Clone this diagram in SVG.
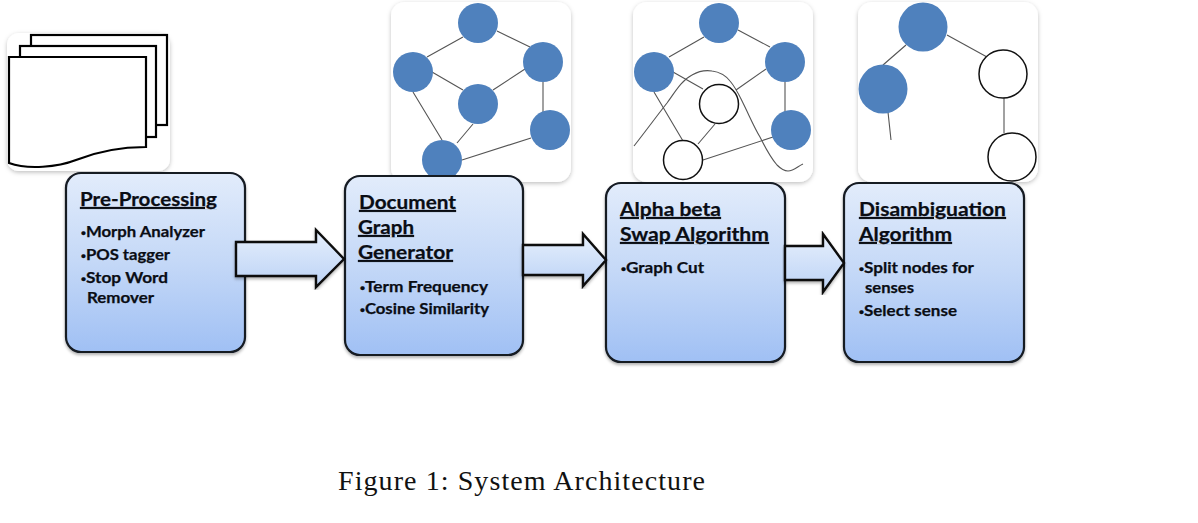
<svg xmlns="http://www.w3.org/2000/svg" width="1198" height="523" viewBox="0 0 1198 523">
<style>
.panel{fill:#fff;filter:url(#soft)}
.box{fill:url(#blue);stroke:#141a24;stroke-width:2.2;filter:url(#shadow)}
.arrow{fill:url(#arrowfill);stroke:#0a0a0a;stroke-width:2.4;stroke-linejoin:miter;filter:url(#shadow)}
.page{fill:#fff;stroke:#000;stroke-width:2.2}
.edge{stroke:#555;stroke-width:1.1;fill:none}
.on{fill:#4f81bd}
.off{fill:#fff;stroke:#111;stroke-width:1.5}
.t{font-family:Lato,"Liberation Sans",sans-serif;font-weight:700;fill:#0a0d14;stroke:#0a0d14;stroke-width:0.25px}
.h{font-size:19.5px;text-decoration:underline}
.b{font-size:15.5px}
.d{font-family:"Liberation Sans",sans-serif;font-size:13px}
.cap{font-family:"Liberation Serif",serif;font-size:28px;fill:#111}
</style>
<defs>
<linearGradient id="blue" x1="0" y1="0" x2="0" y2="1"><stop offset="0" stop-color="#e2ecfb"/><stop offset="0.5" stop-color="#c4d8f7"/><stop offset="1" stop-color="#a0c0f4"/></linearGradient>
<linearGradient id="arrowfill" x1="0" y1="0" x2="0" y2="1"><stop offset="0" stop-color="#e6effc"/><stop offset="1" stop-color="#bcd3f6"/></linearGradient>
<filter id="soft" x="-5%" y="-5%" width="110%" height="110%"><feDropShadow dx="0" dy="1.5" stdDeviation="2" flood-color="#000" flood-opacity="0.25"/></filter>
<filter id="shadow" x="-5%" y="-5%" width="110%" height="110%"><feDropShadow dx="0" dy="2" stdDeviation="1.5" flood-color="#000" flood-opacity="0.3"/></filter>
</defs>

<g id="panel-documents">
<rect class="panel" x="7" y="33" width="163" height="138" rx="12"/>
<rect class="page" x="31" y="35" width="136" height="90"/>
<rect class="page" x="20" y="46" width="136" height="91"/>
<path class="page" d="M9 57H146V147C118 147 96 152 76 160C58 167 28 170 9 163Z"/>
</g>

<g id="panel-graph">
<rect class="panel" x="391" y="2" width="180" height="180" rx="14"/>
<path class="edge" d="M427 57L463 37M497 31L530 47M432 72L463 90M493 90L525 69M413 92L442 140M473 124L457 143M543 82V112M462 160L531 138"/>
<circle class="on" cx="478" cy="23" r="20"/><circle class="on" cx="413" cy="72" r="20"/><circle class="on" cx="543" cy="62" r="20"/><circle class="on" cx="478" cy="104" r="20"/><circle class="on" cx="550" cy="130" r="20"/><circle class="on" cx="442" cy="160" r="20"/>
</g>

<g id="panel-cut">
<rect class="panel" x="633" y="2" width="180" height="180" rx="14"/>
<path class="edge" d="M669 57L704 37M738 30L770 47M673 72L703 89M736 90L766 69M654 92L683 141M715 124L698 144M785 82V112M703 160L773 137"/>
<circle class="on" cx="719" cy="23" r="20"/><circle class="on" cx="654" cy="72" r="20"/><circle class="on" cx="785" cy="62" r="20"/><circle class="off" cx="719" cy="104" r="19.5"/><circle class="on" cx="791" cy="130" r="20"/><circle class="off" cx="683" cy="160" r="19.5"/>
<path class="edge" d="M634 146C645 132 656 117 667 103C675 92 682 80 692 75C699 71 706 70 712 71C720 72 726 76 730 81C736 88 739 95 743 103C749 115 754 127 760 137C765 147 771 158 777 165C781 169 784 171 788 171C794 171 798 166 803 164"/>
</g>

<g id="panel-split">
<rect class="panel" x="858" y="2" width="180" height="180" rx="14"/>
<path class="edge" d="M906 45L883 65M947 35L987 57M1004 97V133M888 112L891 140"/>
<circle class="on" cx="923" cy="27" r="24.5"/><circle class="on" cx="883" cy="89" r="24.5"/><circle class="off" cx="1003" cy="74" r="24"/><circle class="off" cx="1012" cy="157" r="24"/>
</g>

<g id="node-preprocessing">
<rect class="box" x="66" y="173" width="179" height="179" rx="15"/>
<text class="t h" x="80" y="206" textLength="137" lengthAdjust="spacingAndGlyphs">Pre-Processing</text>
<text class="t b" x="81" y="237" textLength="124" lengthAdjust="spacingAndGlyphs"><tspan class="d">•</tspan>Morph Analyzer</text>
<text class="t b" x="81" y="260" textLength="89" lengthAdjust="spacingAndGlyphs"><tspan class="d">•</tspan>POS tagger</text>
<text class="t b" x="81" y="283" textLength="87" lengthAdjust="spacingAndGlyphs"><tspan class="d">•</tspan>Stop Word</text>
<text class="t b" x="87" y="303" textLength="67" lengthAdjust="spacingAndGlyphs">Remover</text>
</g>

<g id="node-graph-generator">
<rect class="box" x="345" y="176" width="178" height="179" rx="15"/>
<text class="t h" x="359" y="209" textLength="97" lengthAdjust="spacingAndGlyphs">Document</text>
<text class="t h" x="358" y="234" textLength="56" lengthAdjust="spacingAndGlyphs">Graph</text>
<text class="t h" x="358" y="259" textLength="95" lengthAdjust="spacingAndGlyphs">Generator</text>
<text class="t b" x="360" y="292" textLength="128" lengthAdjust="spacingAndGlyphs"><tspan class="d">•</tspan>Term Frequency</text>
<text class="t b" x="360" y="314" textLength="129" lengthAdjust="spacingAndGlyphs"><tspan class="d">•</tspan>Cosine Similarity</text>
</g>

<g id="node-alpha-beta">
<rect class="box" x="606" y="183" width="179" height="179" rx="15"/>
<text class="t h" x="620" y="216" textLength="101" lengthAdjust="spacingAndGlyphs">Alpha beta</text>
<text class="t h" x="620" y="241" textLength="149" lengthAdjust="spacingAndGlyphs">Swap Algorithm</text>
<text class="t b" x="621" y="273" textLength="83" lengthAdjust="spacingAndGlyphs"><tspan class="d">•</tspan>Graph Cut</text>
</g>

<g id="node-disambiguation">
<rect class="box" x="844" y="183" width="180" height="179" rx="15"/>
<text class="t h" x="859" y="216" textLength="147" lengthAdjust="spacingAndGlyphs">Disambiguation</text>
<text class="t h" x="859" y="241" textLength="93" lengthAdjust="spacingAndGlyphs">Algorithm</text>
<text class="t b" x="859" y="273" textLength="115" lengthAdjust="spacingAndGlyphs"><tspan class="d">•</tspan>Split nodes for</text>
<text class="t b" x="865" y="293" textLength="49" lengthAdjust="spacingAndGlyphs">senses</text>
<text class="t b" x="859" y="316" textLength="98" lengthAdjust="spacingAndGlyphs"><tspan class="d">•</tspan>Select sense</text>
</g>

<g id="connectors">
<path class="arrow" d="M236 242H316V230L344 259L316 287V276H236Z"/>
<path class="arrow" d="M523 245H583V234L606 260L583 286V275H523Z"/>
<path class="arrow" d="M785 246H823V234L844 263L823 292V280H785Z"/>
</g>

<text id="caption" class="cap" x="338" y="490" textLength="367" lengthAdjust="spacing">Figure 1: System Architecture</text>
</svg>
